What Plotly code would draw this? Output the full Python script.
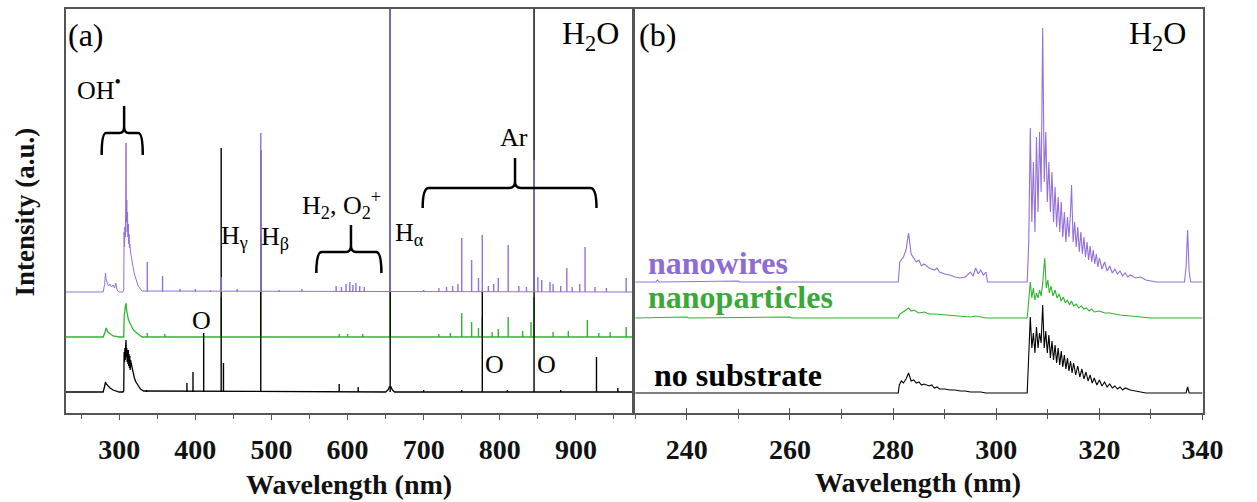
import plotly.graph_objects as go

# ---------------- data ----------------
# Panel (a): survey spectra 230-974 nm. Heights are in arbitrary units above each trace baseline.
A_RANGE = [230, 974]
A_OFFSET_NS, A_OFFSET_NP, A_OFFSET_NW = 21, 76, 121

a_ns_band_x = [230, 279, 281, 282, 283, 285, 288, 292, 296, 300, 305, 306, 306.5, 307, 307.5, 308, 308.5, 309, 309.5, 310,
               310.5, 311, 311.5, 312, 312.5, 313, 313.5, 314, 314.5, 315, 316, 317, 318, 320, 322, 325, 328, 332,
               650, 653, 655, 657, 659, 662, 974]
a_ns_band_y = [0, 0, 6, 10, 8, 6, 4, 2, 1, 0, 0, 1, 40, 30, 44, 32, 45, 52, 35, 44,
               30, 42, 28, 42, 26, 38, 24, 36, 22, 32, 28, 24, 20, 14, 10, 6, 3, 1,
               0, 2, 5, 5, 2, 0, 0]
a_ns_lines_nm = [336, 389, 397, 411, 434, 437, 486, 589, 614, 656, 777, 845, 927, 955, 700, 750, 810, 880]
a_ns_lines_h = [2, 9, 20, 59, 244, 29, 242, 8, 5, 500, 100, 500, 35, 4, 2, 2, 2, 2]

a_np_band_x = [230, 279, 281, 283, 285, 288, 292, 300, 306, 306.5, 307, 308, 309, 309.5, 310, 311, 312, 314, 316, 318,
               320, 323, 326, 330, 974]
a_np_band_y = [0, 0, 4, 9, 5, 3, 1, 0, 0, 20, 25, 30, 34, 28, 26, 22, 18, 14, 10, 8, 6, 4, 2, 0, 0]
a_np_lines_nm = [337, 360, 434, 486, 589, 600, 620, 656, 720, 735, 750, 763, 772, 777, 790, 798, 811, 830, 841, 845,
                 870, 890, 915, 930, 945, 966]
a_np_lines_h = [4, 3, 40, 100, 3, 3, 3, 500, 3, 4, 24, 15, 9, 20, 5, 8, 20, 6, 15, 40, 5, 6, 17, 4, 5, 10]

a_nw_band_x = [230, 279, 281, 282, 283, 284, 286, 288, 290, 292, 294, 295.5, 296, 297, 298, 300, 305, 306, 306.5, 307,
               307.5, 308, 308.5, 309, 309.5, 310, 310.5, 311, 311.5, 312, 312.5, 313, 313.5, 314, 315, 316, 318, 320,
               322, 325, 328, 330, 974]
a_nw_band_y = [0, 0, 8, 19, 12, 10, 6, 8, 5, 7, 4, 9, 6, 3, 1, 0, 0, 2, 60, 45,
               65, 55, 80, 149, 70, 92, 60, 80, 55, 68, 48, 58, 44, 48, 40, 34, 26, 18,
               12, 6, 3, 1, 0]
a_nw_lines_nm = [337, 357, 380, 400, 420, 434, 455, 486, 510, 540, 585, 592, 598, 603, 607, 611, 616, 622, 656, 700,
                 720, 730, 738, 745, 750, 763, 772, 777, 785, 792, 798, 811, 825, 835, 845, 850, 855, 866, 870, 880,
                 888, 895, 905, 912, 925, 940, 966]
a_nw_lines_h = [30, 16, 3, 3, 2, 15, 3, 159, 2, 3, 6, 5, 8, 10, 7, 9, 6, 5, 500, 2,
                4, 5, 6, 8, 54, 32, 14, 57, 6, 8, 14, 47, 6, 5, 132, 15, 12, 10, 8, 6,
                24, 5, 8, 45, 5, 4, 14]

# Panel (b): OH band region 230-340 nm, (wavelength, height above baseline)
B_RANGE = [230, 340]
B_OFFSET_NS, B_OFFSET_NP, B_OFFSET_NW = 20, 95, 131

b_nw = [(230, 0), (234, 0), (234.3, 2), (234.6, 0), (250, 1), (250.3, 0), (281, 0), (281.3, 20), (282, 25), (282.5, 32),
        (283, 49), (283.5, 28), (284, 24), (284.5, 20), (285, 22), (285.5, 16), (286, 18), (287, 14), (288, 12),
        (288.5, 14), (289, 10), (290, 8), (291, 7), (292, 5), (293, 4), (294, 5), (295, 10), (295.5, 6), (296, 14),
        (296.5, 8), (297, 12), (297.5, 7), (298, 10), (298.3, 0), (306, 0), (306.3, 40), (306.6, 154), (306.9, 60),
        (307.2, 120), (307.5, 50), (307.8, 145), (308.1, 70), (308.4, 150), (308.7, 90), (309.0, 254), (309.3, 100),
        (309.6, 150), (309.9, 80), (310.2, 120), (310.5, 70), (310.8, 110), (311.1, 60), (311.4, 95), (311.7, 55),
        (312, 85), (312.3, 50), (312.6, 80), (312.9, 45), (313.2, 70), (313.5, 40), (313.8, 65), (314.1, 45),
        (314.4, 70), (314.6, 97), (314.9, 40), (315.2, 60), (315.5, 35), (315.8, 55), (316.1, 30), (316.4, 50),
        (316.7, 28), (317, 45), (317.3, 25), (317.6, 40), (317.9, 22), (318.2, 36), (318.5, 20), (318.8, 32),
        (319.1, 18), (319.4, 28), (319.7, 15), (320, 24), (320.5, 13), (321, 20), (321.5, 11), (322, 16),
        (322.5, 9), (323, 13), (323.5, 8), (324, 11), (324.5, 6), (325, 9), (325.5, 5), (326, 7), (327, 4),
        (328, 5), (329, 2), (330, 1), (331, 0), (336.5, 0), (336.8, 15), (337.1, 52), (337.4, 10), (337.7, 0), (340, 0)]

b_np = [(230, 0), (240, 1), (240.3, 0), (260, 1), (260.3, 0), (281, 0), (281.3, 4), (282, 6), (282.5, 8), (283, 10),
        (283.5, 7), (284, 8), (285, 5), (286, 6), (287, 4), (288, 4), (290, 3), (292, 2), (295, 1), (296, 2), (298, 0),
        (306, 0), (306.3, 15), (306.6, 36), (306.9, 20), (307.2, 30), (307.5, 18), (307.8, 25), (308.1, 20),
        (308.4, 28), (308.7, 22), (309.0, 35), (309.4, 60), (309.7, 30), (310, 38), (310.3, 25), (310.6, 32),
        (311, 22), (311.4, 28), (311.8, 20), (312.2, 24), (312.6, 17), (313, 21), (313.4, 15), (313.8, 18),
        (314.2, 13), (314.6, 17), (315, 12), (315.5, 14), (316, 10), (316.5, 12), (317, 9), (317.5, 10), (318, 7),
        (318.5, 9), (319, 6), (320, 7), (321, 5), (322, 5), (323, 4), (324, 3), (326, 2), (328, 1), (330, 0), (340, 0)]

b_ns = [(230, 0), (281, 0), (281.2, 8), (281.6, 12), (282, 10), (282.5, 14), (283, 20), (283.5, 12), (284, 13),
        (284.5, 10), (285, 11), (285.5, 8), (286, 9), (287, 7), (287.5, 8), (288, 5), (288.5, 6), (289, 4), (290, 4),
        (291, 3), (292, 3), (293, 2), (294, 2), (295, 1), (297, 1), (298, 0), (306, 0), (306.3, 40), (306.6, 76),
        (306.9, 45), (307.2, 60), (307.5, 40), (307.8, 66), (308.1, 45), (308.4, 60), (308.7, 50), (309.0, 88),
        (309.3, 45), (309.6, 62), (309.9, 40), (310.2, 58), (310.5, 35), (310.8, 52), (311.1, 33), (311.4, 48),
        (311.7, 30), (312, 45), (312.3, 28), (312.6, 42), (312.9, 26), (313.2, 38), (313.5, 24), (313.8, 35),
        (314.1, 22), (314.4, 32), (314.7, 20), (315, 30), (315.4, 18), (315.8, 27), (316.2, 16), (316.6, 24),
        (317, 14), (317.4, 21), (317.8, 12), (318.2, 18), (318.6, 10), (319, 15), (319.5, 8), (320, 13), (320.5, 7),
        (321, 11), (321.5, 6), (322, 9), (322.5, 5), (323, 7), (323.5, 4), (324, 6), (324.5, 3), (325, 5), (326, 3),
        (327, 2), (328, 1), (329, 0), (336.8, 0), (337.1, 6), (337.4, 0), (340, 0)]

SERIES_NAMES = ["nanowires", "nanoparticles", "no substrate"]

# ---------------- styling ----------------
SERIF = "Liberation Serif"
C_NS, C_NP, C_NW = "#000000", "#2fb52f", "#9370DB"
C_NP_TXT, C_NW_TXT = "#3aa83a", "#8f6bd8"
FRAME = "#555555"
Y_RANGE = [0, 404]

fig = go.Figure()


def band_trace(xs, ys, off, color, xa, ya, width=1.0):
    return go.Scatter(x=xs, y=[off + v for v in ys], mode="lines", line=dict(color=color, width=width),
                      hoverinfo="skip", showlegend=False, xaxis=xa, yaxis=ya)


def lines_trace(nm, h, off, color, xa, ya, width=1.4):
    xs, ys = [], []
    for w, v in zip(nm, h):
        xs += [w, w, None]
        ys += [off, off + v, None]
    return go.Scatter(x=xs, y=ys, mode="lines", line=dict(color=color, width=width),
                      hoverinfo="skip", showlegend=False, xaxis=xa, yaxis=ya)


# panel (a): green, black, then purple on top
fig.add_trace(band_trace(a_np_band_x, a_np_band_y, A_OFFSET_NP, C_NP, "x", "y", width=1.3))
fig.add_trace(lines_trace(a_np_lines_nm, a_np_lines_h, A_OFFSET_NP, C_NP, "x", "y"))
fig.add_trace(band_trace(a_ns_band_x, a_ns_band_y, A_OFFSET_NS, C_NS, "x", "y", width=1.3))
fig.add_trace(lines_trace(a_ns_lines_nm, a_ns_lines_h, A_OFFSET_NS, C_NS, "x", "y"))
fig.add_trace(band_trace(a_nw_band_x, a_nw_band_y, A_OFFSET_NW, C_NW, "x", "y"))
fig.add_trace(lines_trace(a_nw_lines_nm, a_nw_lines_h, A_OFFSET_NW, C_NW, "x", "y"))

# panel (b)
for data, off, col in [(b_ns, B_OFFSET_NS, C_NS), (b_np, B_OFFSET_NP, C_NP), (b_nw, B_OFFSET_NW, C_NW)]:
    fig.add_trace(band_trace([p[0] for p in data], [p[1] for p in data], off, col, "x2", "y2", width=1.1))
# dummy trace to host the inner-tick overlay axis
fig.add_trace(go.Scatter(x=[None], y=[None], xaxis="x3", yaxis="y2", showlegend=False, hoverinfo="skip"))

W, H = 1257, 502
XA = [67 / W, 643 / W]
XB = [646 / W, 1223 / W]
YD = [1 - 413 / H, 1 - 9 / H]

tickfont = dict(family=SERIF, size=28, color="#111", weight="bold")
common_x = dict(showline=True, linecolor=FRAME, linewidth=1.5, mirror=True, showgrid=False, zeroline=False,
                ticks="outside", ticklen=5, tickwidth=1.3, tickcolor=FRAME, tickfont=tickfont,
                ticklabelstandoff=6)
common_y = dict(showline=True, linecolor=FRAME, linewidth=1.5, mirror=True, showgrid=False, zeroline=False,
                showticklabels=False, ticks="", range=Y_RANGE)

fig.update_layout(
    width=W, height=H, margin=dict(l=0, r=0, t=0, b=0),
    paper_bgcolor="white", plot_bgcolor="white", showlegend=False,
    xaxis=dict(domain=XA, range=A_RANGE, anchor="y", tick0=0, dtick=100,
               minor=dict(dtick=50, tick0=0, ticks="outside", ticklen=4, tickcolor=FRAME), **common_x),
    yaxis=dict(domain=YD, anchor="x", **common_y),
    xaxis2=dict(domain=XB, range=B_RANGE, anchor="y2", tick0=0, dtick=20,
                minor=dict(dtick=10, tick0=0, ticks="outside", ticklen=4, tickcolor=FRAME), **common_x),
    yaxis2=dict(domain=YD, anchor="x2", **common_y),
    xaxis3=dict(overlaying="x2", anchor="y2", range=B_RANGE, tick0=0, dtick=20, ticks="inside", ticklen=5,
                tickwidth=1.3, tickcolor=FRAME, showticklabels=False, showline=False, showgrid=False,
                zeroline=False, minor=dict(dtick=10, tick0=0, ticks="inside", ticklen=4, tickcolor=FRAME)),
)


def brace(x0, x1, xm, yh, ye, yt, rx, ry, xref, yref):
    path = (f"M {x0},{ye} Q {x0},{yh} {x0 + rx},{yh} L {xm - rx},{yh} Q {xm},{yh} {xm},{yh + ry} L {xm},{yt} "
            f"M {xm},{yh + ry} Q {xm},{yh} {xm + rx},{yh} L {x1 - rx},{yh} Q {x1},{yh} {x1},{ye}")
    return dict(type="path", path=path, xref=xref, yref=yref, line=dict(color="black", width=2.5))


fig.add_shape(brace(277, 331, 306.5, 280, 258, 307, 6, 6, "x", "y"))
fig.add_shape(brace(559, 644.5, 604.5, 161, 140, 188, 7, 6, "x", "y"))
fig.add_shape(brace(698.7, 927, 820, 225, 205, 255, 8, 6, "x", "y"))

lab = dict(family=SERIF, size=26, color="black")
big = dict(family=SERIF, size=32, color="black")
bold_series = lambda c: dict(family=SERIF, size=32, color=c, weight="bold")
anns = [
    dict(x=257, y=378, xref="x", yref="y", text="(a)", font=big),
    dict(x=919, y=377, xref="x", yref="y", text="H<sub>2</sub>O", font=big),
    dict(x=274, y=325, xref="x", yref="y", text="OH<sup>•</sup>", font=lab),
    dict(x=452, y=176, xref="x", yref="y", text="H<sub>γ</sub>", font=lab),
    dict(x=505, y=175, xref="x", yref="y", text="H<sub>β</sub>", font=lab),
    dict(x=681, y=179, xref="x", yref="y", text="H<sub>α</sub>", font=lab),
    dict(x=592, y=208, xref="x", yref="y", text="H<sub>2</sub>, O<sub>2</sub><sup>+</sup>", font=lab),
    dict(x=818, y=276, xref="x", yref="y", text="Ar", font=lab),
    dict(x=408, y=93, xref="x", yref="y", text="O", font=lab),
    dict(x=792.6, y=49, xref="x", yref="y", text="O", font=lab),
    dict(x=861, y=49, xref="x", yref="y", text="O", font=lab),
    dict(x=234.4, y=378, xref="x2", yref="y2", text="(b)", font=big),
    dict(x=331.3, y=377, xref="x2", yref="y2", text="H<sub>2</sub>O", font=big),
    dict(x=232.1, y=150, xref="x2", yref="y2", text=SERIES_NAMES[0], xanchor="left", font=bold_series(C_NW_TXT)),
    dict(x=232.1, y=116, xref="x2", yref="y2", text=SERIES_NAMES[1], xanchor="left", font=bold_series(C_NP_TXT)),
    dict(x=233.2, y=38, xref="x2", yref="y2", text=SERIES_NAMES[2], xanchor="left", font=bold_series("black")),
    dict(x=355 / W, y=1 - 484 / H, xref="paper", yref="paper", text="Wavelength (nm)",
         font=dict(family=SERIF, size=28, color="#111", weight="bold")),
    dict(x=934 / W, y=1 - 482 / H, xref="paper", yref="paper", text="Wavelength (nm)",
         font=dict(family=SERIF, size=28, color="#111", weight="bold")),
    dict(x=25 / W, y=1 - 212 / H, xref="paper", yref="paper", text="Intensity (a.u.)", textangle=-90,
         font=dict(family=SERIF, size=27, color="#111", weight="bold")),
]
for a in anns:
    a.setdefault("showarrow", False)
    a.setdefault("xanchor", "center")
    a.setdefault("yanchor", "middle")
    fig.add_annotation(**a)

fig.write_html("out.html")
